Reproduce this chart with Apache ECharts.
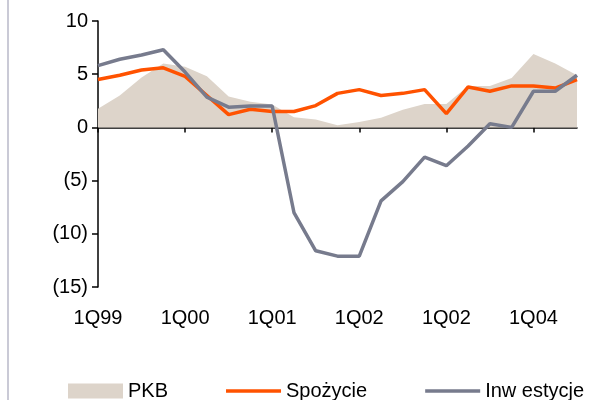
<!DOCTYPE html>
<html>
<head>
<meta charset="utf-8">
<script src="https://cdn.jsdelivr.net/npm/echarts@6/dist/echarts.min.js"></script>
<style>
html,body{margin:0;padding:0;background:#fff;}
#chart{width:597px;height:400px;}
</style>
</head>
<body>
<div id="chart"></div>
<script>
var categories = ['1Q99','2Q99','3Q99','4Q99','1Q00','2Q00','3Q00','4Q00','1Q01','2Q01','3Q01','4Q01','1Q02','2Q02','3Q02','4Q02','1Q03','2Q03','3Q03','4Q03','1Q04','2Q04','3Q04'];
var tickLabels = ['1Q99','1Q00','1Q01','1Q02','1Q02','1Q04'];
var pkb = [1.75, 3.0, 4.7, 6.0, 5.7, 4.8, 2.9, 2.4, 2.15, 0.95, 0.75, 0.2, 0.5, 0.9, 1.65, 2.2, 2.2, 3.9, 3.9, 4.65, 6.9, 6.0, 4.9];
var spozycie = [4.5, 4.9, 5.4, 5.6, 4.8, 3.0, 1.2, 1.7, 1.5, 1.5, 2.05, 3.2, 3.55, 3.0, 3.2, 3.55, 1.3, 3.8, 3.4, 3.9, 3.9, 3.7, 4.5];
var inwestycje = [5.8, 6.4, 6.8, 7.3, 5.2, 2.85, 1.9, 2.0, 2.0, -8.0, -11.6, -12.1, -12.1, -6.9, -5.1, -2.8, -3.6, -1.75, 0.35, 0.0, 3.4, 3.4, 4.9];
var seriesNames = ['PKB', 'Spożycie', 'Inw estycje'];

var chart = echarts.init(document.getElementById('chart'), null, {renderer: 'canvas'});
var font = 'Liberation Sans, Arial, sans-serif';
var lineIcon = 'path://M0,0 L160,0 L160,10 L0,10 Z';
chart.setOption({
  animation: false,
  backgroundColor: '#ffffff',
  graphic: [{
    type: 'line',
    shape: {x1: 8, y1: 0, x2: 8, y2: 400},
    style: {stroke: '#B8B8C8', lineWidth: 1.5}
  }],
  grid: {left: 98, right: 20, top: 21, bottom: 113, containLabel: false},
  legend: {
    left: 68, top: 381, padding: 0,
    itemWidth: 55, itemHeight: 15, itemGap: 58,
    textStyle: {fontFamily: font, fontSize: 20, color: '#000'},
    data: [
      {name: seriesNames[0], icon: 'rect'},
      {name: seriesNames[1], icon: lineIcon},
      {name: seriesNames[2], icon: lineIcon}
    ]
  },
  xAxis: [{
    type: 'category',
    data: categories,
    boundaryGap: false,
    axisLine: {onZero: true, lineStyle: {color: '#000', width: 1.5}},
    axisTick: {show: true, interval: 3, length: 5, lineStyle: {color: '#000', width: 1.5}},
    axisLabel: {show: false},
    splitLine: {show: false}
  }, {
    type: 'category',
    data: categories,
    boundaryGap: false,
    position: 'bottom',
    axisLine: {show: false, onZero: false},
    axisTick: {show: false},
    splitLine: {show: false},
    axisLabel: {
      interval: 3,
      margin: 21,
      fontFamily: font, fontSize: 20, color: '#000',
      formatter: function (v, idx) { return tickLabels[idx / 4]; }
    }
  }],
  yAxis: {
    type: 'value',
    min: -15, max: 10, interval: 5,
    axisLine: {show: true, lineStyle: {color: '#000', width: 1.5}},
    axisTick: {show: true, length: 6, lineStyle: {color: '#000', width: 1.5}},
    splitLine: {show: false},
    axisLabel: {
      margin: 10,
      fontFamily: font, fontSize: 20, color: '#000',
      formatter: function (v) { return v < 0 ? '(' + (-v) + ')' : String(v); }
    }
  },
  series: [{
    name: seriesNames[0],
    type: 'line',
    data: pkb,
    symbol: 'none',
    lineStyle: {width: 0, color: '#DDD4CA'},
    itemStyle: {color: '#DDD4CA'},
    areaStyle: {color: '#DDD4CA', opacity: 1},
    z: 1
  }, {
    name: seriesNames[1],
    type: 'line',
    data: spozycie,
    symbol: 'none',
    lineStyle: {width: 3.5, color: '#FF5200'},
    itemStyle: {color: '#FF5200'},
    z: 3
  }, {
    name: seriesNames[2],
    type: 'line',
    data: inwestycje,
    symbol: 'none',
    lineStyle: {width: 3.5, color: '#777B8D'},
    itemStyle: {color: '#777B8D'},
    z: 4
  }]
});
</script>
</body>
</html>
